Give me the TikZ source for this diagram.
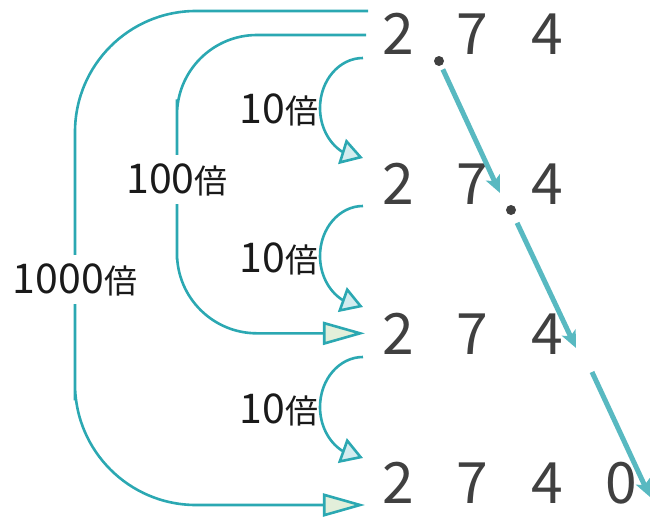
\documentclass[tikz,border=0pt]{standalone}
\usepackage{fontspec}
\newfontfamily\cjk{Noto Sans CJK JP}
\usetikzlibrary{arrows.meta}
\definecolor{tealline}{HTML}{2BA8B2}
\definecolor{diagc}{HTML}{58B9C1}
\definecolor{greenfill}{HTML}{E2EFDA}
\definecolor{cyanfill}{HTML}{D4EDEF}
\definecolor{digc}{HTML}{404040}
\definecolor{lblc}{HTML}{1A1A1A}
\newcommand\ldg[1]{{\fontsize{41}{41}\selectfont #1}}
\begin{document}
\begin{tikzpicture}[x=1pt,y=-1pt,
  dig/.style={font=\cjk\fontsize{57}{57}\selectfont, text=digc, inner sep=0pt, anchor=base},
  lbl/.style={font=\cjk\fontsize{33}{33}\selectfont, text=lblc, inner sep=0pt, anchor=base},
  gapl/.style={lbl, fill=white, inner xsep=2pt, inner ysep=8pt},
  dotn/.style={circle, fill=digc, inner sep=0pt, minimum size=10pt},
  conn/.style={draw=tealline, line width=2.6pt},
  bigarrow/.style={conn, -{Triangle[length=42pt,width=23pt,fill=greenfill]}},
  tenarrow/.style={conn, -{Triangle[length=22pt,width=26pt,fill=cyanfill]}},
  diag/.style={draw=diagc, line width=5pt, -{Stealth[length=17pt,width=15pt,inset=4pt]}}
]
\useasboundingbox (0,0) rectangle (660,519);

% digits
\node[dig] (r1a) at (398,54) {2};
\node[dig] (r1b) at (472,54) {7};
\node[dig] (r1c) at (547,54) {4};
\node[dotn] (p1) at (439,61) {};

\node[dig] (r2a) at (398,204) {2};
\node[dig] (r2b) at (472,204) {7};
\node[dig] (r2c) at (547,204) {4};
\node[dotn] (p2) at (511,210) {};

\node[dig] (r3a) at (398,354) {2};
\node[dig] (r3b) at (472,354) {7};
\node[dig] (r3c) at (547,354) {4};

\node[dig] (r4a) at (398,503) {2};
\node[dig] (r4b) at (472,503) {7};
\node[dig] (r4c) at (547,503) {4};
\node[dig] (r4d) at (621,503) {0};

% 10x labels
\node[lbl] (t1) at (279,123) {\ldg{10}倍};
\node[lbl] (t2) at (279,272) {\ldg{10}倍};
\node[lbl] (t3) at (279,423) {\ldg{10}倍};

% label positions (drawn later over lines)
\path (177,193) node[gapl, opacity=0] (h) {\ldg{100}倍};
\path (75,293) node[gapl, opacity=0] (k) {\ldg{1000}倍};

% free ends
\coordinate (s1000) at (368,11);
\coordinate (s100) at (366,35);
\coordinate (u1) at (363,58);
\coordinate (u2) at (363,206);
\coordinate (u3) at (363,357);
\coordinate (v1) at (363,158);
\coordinate (v2) at (363,307);
\coordinate (v3) at (363,458);
\coordinate (q1e) at (500,193);
\coordinate (q2e) at (576,348);
\coordinate (q3s) at (592,372);
\coordinate (q3e) at (650,497);

% 1000 and 100 connectors
\draw[bigarrow, rounded corners=121pt] (s1000) -| (k.center) |- ([xshift=-17pt,yshift=-2pt]r4a.base west);
\draw[bigarrow, rounded corners=80pt] (s100) -| (h.center) |- ([xshift=-17pt]r3a.west);

% 10 connectors
\draw[tenarrow] (u1) arc[start angle=270, end angle=120, x radius=43, y radius=50] -- (v1);
\draw[tenarrow] (u2) arc[start angle=270, end angle=120, x radius=43, y radius=50] -- (v2);
\draw[tenarrow] (u3) arc[start angle=270, end angle=120, x radius=43, y radius=50] -- (v3);

% decimal point moves
\draw[diag, shorten <=4pt] (p1) -- (q1e);
\draw[diag, shorten <=9pt] (p2) -- (q2e);
\draw[diag] (q3s) -- (q3e);

% labels over lines
\node[gapl] at (h.base) {\ldg{100}倍};
\node[gapl] at (k.base) {\ldg{1000}倍};
\end{tikzpicture}
\end{document}
